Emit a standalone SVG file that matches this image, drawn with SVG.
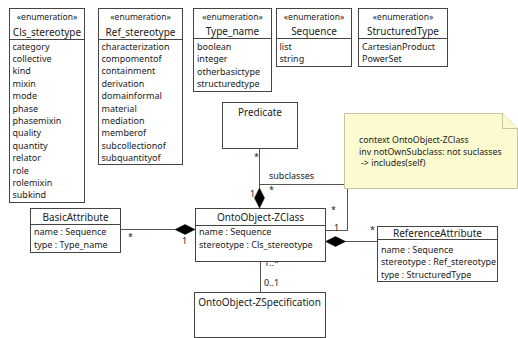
<svg xmlns="http://www.w3.org/2000/svg" width="518" height="338" viewBox="0 0 518 338">
<style>
text{font-family:"Noto Sans","Open Sans",sans-serif;font-size:9px;fill:#222}
.box{fill:#fff;stroke:#444;stroke-width:1}
.sep{stroke:#444;stroke-width:1}
.hd{font-size:8.5px;text-anchor:middle}
.tt{font-size:10px;text-anchor:middle}
.ln{fill:none;stroke:#555;stroke-width:1}
.dm{fill:#000;stroke:#000;stroke-width:0.5}
.note{fill:#fcfbcf;stroke:#c6c4a4;stroke-width:1}
.nt{font-size:8.8px}
</style>
<rect width="518" height="338" fill="#fff"/>
<g id="cls_stereotype">
<rect class="box" x="9.5" y="8.5" width="75" height="194"/>
<line class="sep" x1="9.5" y1="39.5" x2="84.5" y2="39.5"/>
<text class="hd" x="47" y="20">«enumeration»</text>
<text class="tt" x="47" y="35.5">Cls_stereotype</text>
<text x="12.5" y="49.5">category</text>
<text x="12.5" y="61.9">collective</text>
<text x="12.5" y="74.3">kind</text>
<text x="12.5" y="86.7">mixin</text>
<text x="12.5" y="99.1">mode</text>
<text x="12.5" y="111.5">phase</text>
<text x="12.5" y="123.9">phasemixin</text>
<text x="12.5" y="136.3">quality</text>
<text x="12.5" y="148.7">quantity</text>
<text x="12.5" y="161.1">relator</text>
<text x="12.5" y="173.5">role</text>
<text x="12.5" y="185.9">rolemixin</text>
<text x="12.5" y="198.3">subkind</text>
</g>
<g id="ref_stereotype">
<rect class="box" x="98.5" y="8.5" width="84" height="156"/>
<line class="sep" x1="98.5" y1="39.5" x2="182.5" y2="39.5"/>
<text class="hd" x="140.5" y="20">«enumeration»</text>
<text class="tt" x="140.5" y="35.5">Ref_stereotype</text>
<text x="101.5" y="49.5">characterization</text>
<text x="101.5" y="61.9">compomentof</text>
<text x="101.5" y="74.3">containment</text>
<text x="101.5" y="86.7">derivation</text>
<text x="101.5" y="99.1">domainformal</text>
<text x="101.5" y="111.5">material</text>
<text x="101.5" y="123.9">mediation</text>
<text x="101.5" y="136.3">memberof</text>
<text x="101.5" y="148.7">subcollectionof</text>
<text x="101.5" y="161.1">subquantityof</text>
</g>
<g id="type_name">
<rect class="box" x="193.5" y="8.5" width="78" height="83"/>
<line class="sep" x1="193.5" y1="38.5" x2="271.5" y2="38.5"/>
<text class="hd" x="232.5" y="20">«enumeration»</text>
<text class="tt" x="232.5" y="35">Type_name</text>
<text x="197" y="49.5">boolean</text>
<text x="197" y="62">integer</text>
<text x="197" y="74.5">otherbasictype</text>
<text x="197" y="87">structuredtype</text>
</g>
<g id="sequence">
<rect class="box" x="276.5" y="8.5" width="75" height="58"/>
<line class="sep" x1="276.5" y1="38.5" x2="351.5" y2="38.5"/>
<text class="hd" x="314" y="20">«enumeration»</text>
<text class="tt" x="314" y="35">Sequence</text>
<text x="279.5" y="49.5">list</text>
<text x="279.5" y="62">string</text>
</g>
<g id="structuredtype">
<rect class="box" x="358.5" y="8.5" width="89" height="58"/>
<line class="sep" x1="358.5" y1="38.5" x2="447.5" y2="38.5"/>
<text class="hd" x="403" y="20">«enumeration»</text>
<text class="tt" x="403" y="35">StructuredType</text>
<text x="362" y="49.5">CartesianProduct</text>
<text x="362" y="62">PowerSet</text>
</g>
<g id="predicate">
<rect class="box" x="222.5" y="102.5" width="75" height="46"/>
<text class="tt" x="260" y="116">Predicate</text>
</g>
<g id="connectors">
<line class="ln" x1="259.5" y1="148.5" x2="259.5" y2="188"/>
<polygon class="dm" points="259.5,188 264.5,198 259.5,208 254.5,198"/>
<polyline class="ln" points="259.5,184.5 347.5,184.5 347.5,230.5 325.5,230.5"/>
<line class="ln" x1="120.5" y1="229.5" x2="175" y2="229.5"/>
<polygon class="dm" points="175,229.5 185,224.5 195,229.5 185,234.5"/>
<line class="ln" x1="345" y1="241.5" x2="377.5" y2="241.5"/>
<polygon class="dm" points="325.5,241.5 335.5,236.5 345.5,241.5 335.5,246.5"/>
<line class="ln" x1="260.5" y1="261.5" x2="260.5" y2="292.5"/>
<text x="254" y="160">*</text>
<text x="250" y="197">1</text>
<text x="269" y="193">*</text>
<text x="269" y="179">subclasses</text>
<text x="331" y="213">*</text>
<text x="334" y="231">1</text>
<text x="128" y="240">*</text>
<text x="182" y="244">1</text>
<text x="370" y="233">*</text>
<text x="264" y="266">1..*</text>
<text x="264" y="286">0..1</text>
</g>
<g id="note">
<polygon class="note" points="344.5,113.5 502.5,113.5 517.5,128.5 517.5,188.5 344.5,188.5"/>
<polyline class="note" points="502.5,113.5 502.5,128.5 517.5,128.5"/>
<text class="nt" x="359" y="143">context OntoObject-ZClass</text>
<text class="nt" x="359" y="154.5">inv notOwnSubclass: not suclasses</text>
<text class="nt" x="361" y="166">-&gt; includes(self)</text>
</g>
<g id="zclass">
<rect class="box" x="195.5" y="208.5" width="130" height="53"/>
<line class="sep" x1="195.5" y1="225.5" x2="325.5" y2="225.5"/>
<text class="tt" x="260.5" y="220.5">OntoObject-ZClass</text>
<text x="199" y="234.5">name : Sequence</text>
<text x="199" y="247.5">stereotype : Cls_stereotype</text>
</g>
<g id="basicattribute">
<rect class="box" x="30.5" y="208.5" width="90" height="44"/>
<line class="sep" x1="30.5" y1="224.5" x2="120.5" y2="224.5"/>
<text class="tt" x="75.5" y="220.5">BasicAttribute</text>
<text x="34" y="234.5">name : Sequence</text>
<text x="34" y="247.5">type : Type_name</text>
</g>
<g id="referenceattribute">
<rect class="box" x="377.5" y="226.5" width="120" height="55"/>
<line class="sep" x1="377.5" y1="239.5" x2="497.5" y2="239.5"/>
<text class="tt" x="437.5" y="237">ReferenceAttribute</text>
<text x="381" y="252.5">name : Sequence</text>
<text x="381" y="265">stereotype : Ref_stereotype</text>
<text x="381" y="277.5">type : StructuredType</text>
</g>
<g id="zspecification">
<rect class="box" x="194.5" y="292.5" width="131" height="45"/>
<text class="tt" x="259.5" y="305.5">OntoObject-ZSpecification</text>
</g>
</svg>
